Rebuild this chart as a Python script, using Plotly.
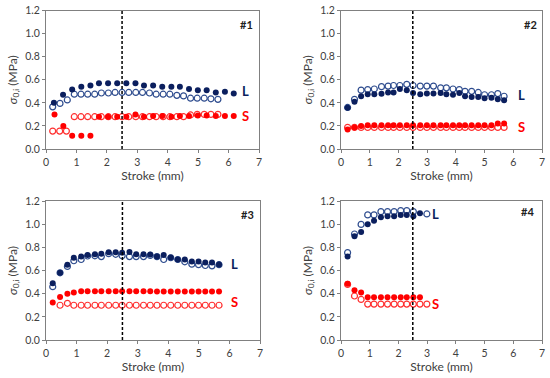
import plotly.graph_objects as go

# ---------------- data ----------------
# Panel #1
p1_Lf_x = [0.26, 0.56, 0.86, 1.16, 1.46, 1.74, 2.04, 2.34, 2.64, 2.94, 3.22, 3.52, 3.82, 4.12, 4.40, 4.70, 4.99, 5.28, 5.58, 5.88, 6.17]
p1_Lf_y = [0.40, 0.47, 0.515, 0.54, 0.55, 0.57, 0.57, 0.57, 0.57, 0.57, 0.55, 0.55, 0.54, 0.54, 0.54, 0.52, 0.51, 0.51, 0.49, 0.495, 0.48]
p1_Lo_x = [0.22, 0.46, 0.70, 0.93, 1.15, 1.37, 1.60, 1.82, 2.05, 2.27, 2.50, 2.72, 2.95, 3.17, 3.40, 3.62, 3.85, 4.07, 4.30, 4.52, 4.75, 4.97, 5.20, 5.42, 5.65]
p1_Lo_y = [0.365, 0.395, 0.425, 0.475, 0.475, 0.475, 0.475, 0.485, 0.485, 0.49, 0.49, 0.49, 0.49, 0.49, 0.485, 0.475, 0.475, 0.475, 0.465, 0.46, 0.44, 0.44, 0.44, 0.435, 0.43]
p1_Sf_x = [0.28, 0.57, 0.86, 1.16, 1.46, 1.74, 2.04, 2.34, 2.64, 2.94, 3.22, 3.52, 3.82, 4.12, 4.40, 4.70, 4.99, 5.28, 5.58, 5.88, 6.17]
p1_Sf_y = [0.30, 0.20, 0.115, 0.115, 0.115, 0.28, 0.28, 0.28, 0.28, 0.30, 0.28, 0.285, 0.285, 0.28, 0.285, 0.285, 0.29, 0.29, 0.285, 0.285, 0.285]
p1_So_x = [0.22, 0.45, 0.67, 0.93, 1.15, 1.37, 1.60, 1.82, 2.05, 2.27, 2.50, 2.72, 2.95, 3.17, 3.40, 3.62, 3.85, 4.07, 4.30, 4.52, 4.75, 4.97, 5.20, 5.42, 5.65]
p1_So_y = [0.155, 0.155, 0.155, 0.28, 0.28, 0.28, 0.28, 0.28, 0.28, 0.28, 0.28, 0.28, 0.28, 0.28, 0.28, 0.28, 0.28, 0.28, 0.28, 0.28, 0.295, 0.30, 0.30, 0.30, 0.30]

# Panel #2
p2_x = [0.23, 0.47, 0.70, 0.93, 1.16, 1.41, 1.64, 1.83, 2.05, 2.29, 2.51, 2.76, 2.99, 3.22, 3.47, 3.67, 3.90, 4.12, 4.32, 4.55, 4.78, 5.00, 5.24, 5.46, 5.68]
p2_Lf_y = [0.357, 0.41, 0.457, 0.475, 0.475, 0.478, 0.49, 0.49, 0.52, 0.51, 0.485, 0.475, 0.48, 0.48, 0.485, 0.475, 0.47, 0.485, 0.457, 0.45, 0.45, 0.44, 0.443, 0.432, 0.423]
p2_Lo_y = [0.36, 0.43, 0.51, 0.515, 0.52, 0.54, 0.545, 0.55, 0.55, 0.56, 0.55, 0.545, 0.545, 0.545, 0.53, 0.53, 0.52, 0.515, 0.50, 0.50, 0.49, 0.47, 0.47, 0.48, 0.457]
p2_Sf_y = [0.17, 0.187, 0.20, 0.205, 0.205, 0.205, 0.205, 0.205, 0.205, 0.205, 0.205, 0.205, 0.205, 0.205, 0.205, 0.205, 0.205, 0.205, 0.205, 0.205, 0.205, 0.205, 0.205, 0.22, 0.22]
p2_So_y = [0.187, 0.187, 0.187, 0.187, 0.187, 0.187, 0.187, 0.187, 0.187, 0.187, 0.187, 0.187, 0.187, 0.187, 0.187, 0.187, 0.187, 0.187, 0.187, 0.187, 0.187, 0.187, 0.187, 0.187, 0.187]

# Panel #3
p3_x = [0.22, 0.46, 0.70, 0.91, 1.15, 1.36, 1.60, 1.81, 2.05, 2.28, 2.49, 2.73, 2.95, 3.19, 3.41, 3.63, 3.85, 4.08, 4.31, 4.54, 4.77, 4.99, 5.21, 5.43, 5.66]
p3_Lf_y = [0.49, 0.58, 0.65, 0.71, 0.72, 0.733, 0.74, 0.745, 0.758, 0.758, 0.753, 0.76, 0.74, 0.74, 0.738, 0.72, 0.733, 0.712, 0.695, 0.695, 0.678, 0.678, 0.67, 0.67, 0.652]
p3_Lo_y = [0.46, 0.58, 0.635, 0.684, 0.695, 0.725, 0.727, 0.72, 0.745, 0.74, 0.727, 0.72, 0.72, 0.72, 0.73, 0.72, 0.695, 0.71, 0.695, 0.675, 0.655, 0.65, 0.643, 0.64, 0.65]
p3_Sf_y = [0.323, 0.372, 0.40, 0.41, 0.42, 0.42, 0.42, 0.42, 0.42, 0.42, 0.42, 0.42, 0.42, 0.42, 0.42, 0.418, 0.418, 0.418, 0.418, 0.418, 0.418, 0.418, 0.418, 0.418, 0.418]
p3_So_x = [0.46, 0.70, 0.91, 1.15, 1.36, 1.60, 1.81, 2.05, 2.28, 2.49, 2.73, 2.95, 3.19, 3.41, 3.63, 3.85, 4.08, 4.31, 4.54, 4.77, 4.99, 5.21, 5.43, 5.66]
p3_So_y = [0.30, 0.317, 0.30, 0.30, 0.30, 0.30, 0.30, 0.30, 0.30, 0.30, 0.30, 0.30, 0.30, 0.30, 0.30, 0.30, 0.30, 0.30, 0.30, 0.30, 0.30, 0.30, 0.30, 0.30]

# Panel #4
p4_f_x = [0.23, 0.47, 0.70, 0.93, 1.15, 1.39, 1.62, 1.85, 2.08, 2.29, 2.52, 2.75]
p4_Lf_y = [0.72, 0.895, 0.932, 1.0, 1.03, 1.06, 1.068, 1.068, 1.08, 1.08, 1.068, 1.094]
p4_Sf_y = [0.486, 0.43, 0.41, 0.368, 0.368, 0.368, 0.368, 0.368, 0.368, 0.368, 0.368, 0.368]
p4_Lo_x = [0.23, 0.47, 0.70, 0.93, 1.15, 1.39, 1.62, 1.85, 2.08, 2.29, 2.52, 2.99]
p4_Lo_y = [0.754, 0.915, 0.998, 1.08, 1.08, 1.108, 1.108, 1.108, 1.117, 1.117, 1.108, 1.088]
p4_So_x = [0.23, 0.47, 0.70, 0.93, 1.15, 1.39, 1.62, 1.85, 2.08, 2.29, 2.52, 2.75, 2.99]
p4_So_y = [0.48, 0.38, 0.35, 0.31, 0.31, 0.31, 0.31, 0.31, 0.31, 0.31, 0.31, 0.31, 0.31]

panel_names = ["#1", "#2", "#3", "#4"]
L_label_pos = [(6.55, 0.50), (6.3, 0.465), (6.15, 0.66), (3.3, 1.085)]
S_label_pos = [(6.55, 0.29), (6.3, 0.19), (6.15, 0.33), (3.3, 0.31)]
name_pos = [(6.6, 1.08), (6.6, 1.08), (6.6, 1.08), (6.5, 1.11)]
x_ticks = [0, 1, 2, 3, 4, 5, 6, 7]
y_ticks = [0.0, 0.2, 0.4, 0.6, 0.8, 1.0, 1.2]
y_tick_text = ["0.0", "0.2", "0.4", "0.6", "0.8", "1.0", "1.2"]
dash_x = 2.5

# ---------------- style ----------------
NAVY = "#0B1F5E"
NAVY_OPEN = "#2F4D8F"
RED = "#FF0000"
RED_OPEN = "#FF3030"
FONT = "Lato"
TXT = "#404040"
MS = 6

panels = [
    (p1_Lf_x, p1_Lf_y, p1_Lo_x, p1_Lo_y, p1_Sf_x, p1_Sf_y, p1_So_x, p1_So_y),
    (p2_x, p2_Lf_y, p2_x, p2_Lo_y, p2_x, p2_Sf_y, p2_x, p2_So_y),
    (p3_x, p3_Lf_y, p3_x, p3_Lo_y, p3_x, p3_Sf_y, p3_So_x, p3_So_y),
    (p4_f_x, p4_Lf_y, p4_Lo_x, p4_Lo_y, p4_f_x, p4_Sf_y, p4_So_x, p4_So_y),
]

xdoms = [[46 / 550, 259 / 550], [341 / 550, 542 / 550], [46 / 550, 260 / 550], [341 / 550, 542 / 550]]
ydoms = [[1 - 149 / 378, 1 - 10.5 / 378], [1 - 149 / 378, 1 - 10.5 / 378],
         [1 - 340 / 378, 1 - 201 / 378], [1 - 340 / 378, 1 - 201 / 378]]

fig = go.Figure()
layout = dict(
    width=550, height=378, margin=dict(l=0, r=0, t=0, b=0),
    paper_bgcolor="white", plot_bgcolor="white", showlegend=False,
    font=dict(family=FONT, size=10.5, color=TXT),
)
annotations = []
shapes = []
for i, (lfx, lfy, lox, loy, sfx, sfy, sox, soy) in enumerate(panels):
    n = "" if i == 0 else str(i + 1)
    xa, ya = "x" + n, "y" + n
    fig.add_trace(go.Scatter(x=sox, y=soy, mode="markers", xaxis=xa, yaxis=ya,
                             marker=dict(symbol="circle-open", size=MS, color=RED_OPEN, line=dict(width=1.2))))
    fig.add_trace(go.Scatter(x=lox, y=loy, mode="markers", xaxis=xa, yaxis=ya,
                             marker=dict(symbol="circle-open", size=MS, color=NAVY_OPEN, line=dict(width=1.2))))
    fig.add_trace(go.Scatter(x=sfx, y=sfy, mode="markers", xaxis=xa, yaxis=ya,
                             marker=dict(symbol="circle", size=MS, color=RED)))
    fig.add_trace(go.Scatter(x=lfx, y=lfy, mode="markers", xaxis=xa, yaxis=ya,
                             marker=dict(symbol="circle", size=MS, color=NAVY)))
    axcommon = dict(showgrid=False, zeroline=False, showline=True, linecolor="#808080",
                    linewidth=1, mirror=True, ticks="outside", ticklen=3, tickcolor="#808080",
                    automargin=False,
                    tickfont=dict(size=10.5, color=TXT, family=FONT))
    layout["xaxis" + n] = dict(axcommon, domain=xdoms[i], range=[0, 7], tickvals=x_ticks,
                               anchor=ya, title=dict(text="Stroke (mm)", standoff=5,
                                                     font=dict(size=12, color=TXT, family=FONT)))
    layout["yaxis" + n] = dict(axcommon, domain=ydoms[i], range=[0, 1.2], tickvals=y_ticks,
                               ticktext=y_tick_text, anchor=xa,
                               title=dict(text="<i>σ</i><sub>0,i</sub> (MPa)", standoff=5,
                                          font=dict(size=12, color=TXT, family=FONT)))
    shapes.append(dict(type="line", xref=xa, yref=ya + " domain", x0=dash_x, x1=dash_x, y0=0, y1=1,
                       line=dict(color="black", width=1.5, dash="3px,2px")))
    annotations.append(dict(x=L_label_pos[i][0], y=L_label_pos[i][1], xref=xa, yref=ya, text="<b>L</b>",
                            showarrow=False, font=dict(size=13, color=NAVY, family=FONT)))
    annotations.append(dict(x=S_label_pos[i][0], y=S_label_pos[i][1], xref=xa, yref=ya, text="<b>S</b>",
                            showarrow=False, font=dict(size=13, color=RED, family=FONT)))
    annotations.append(dict(x=name_pos[i][0], y=name_pos[i][1], xref=xa, yref=ya, text="<b>" + panel_names[i] + "</b>",
                            showarrow=False, font=dict(size=11, color="#202020", family=FONT)))

layout["annotations"] = annotations
layout["shapes"] = shapes
fig.update_layout(**layout)
fig.write_html("out.html", config={"displayModeBar": False},
               post_script=["document.body.style.margin='0px';"])
